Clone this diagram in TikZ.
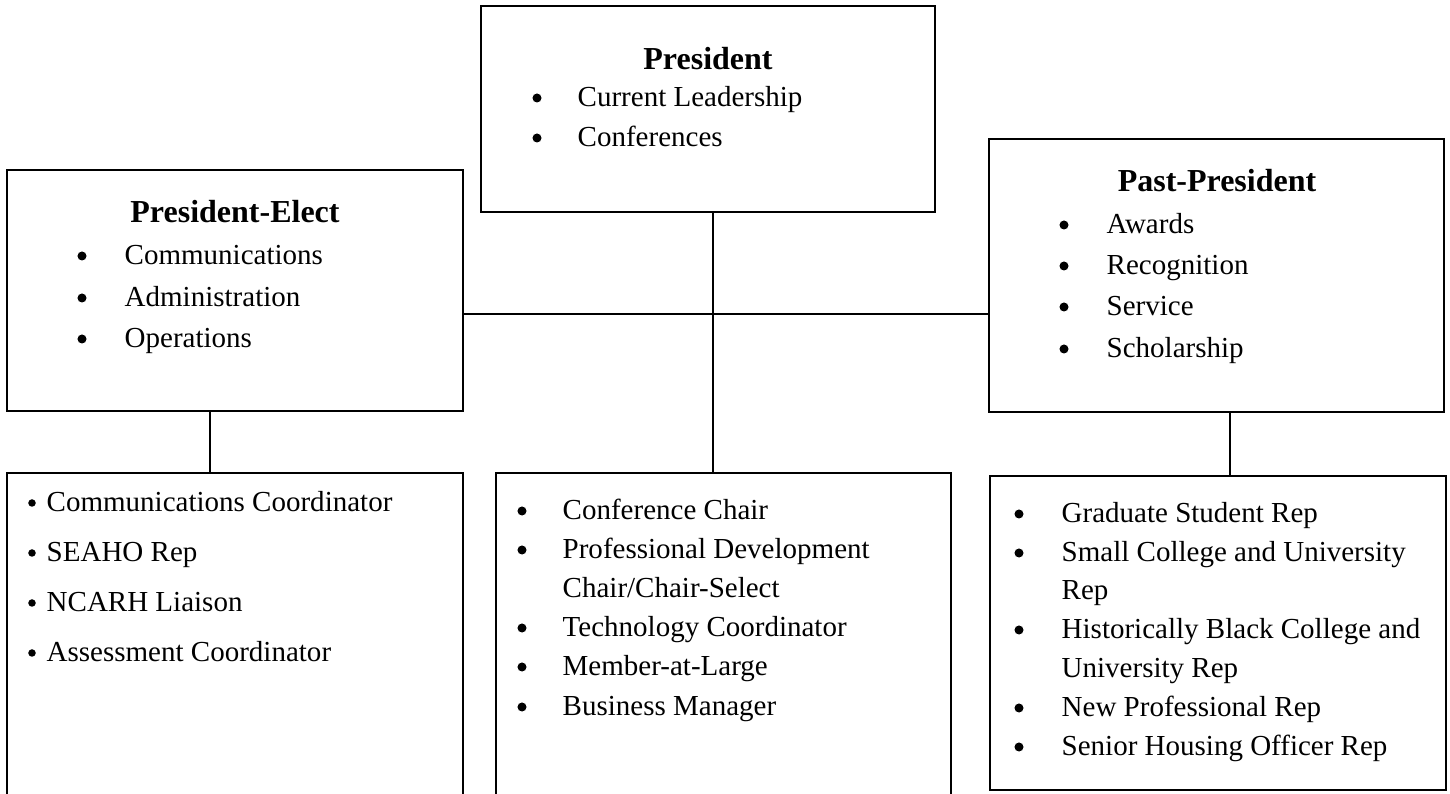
\documentclass[tikz,border=0pt]{standalone}
\usepackage{fontspec}
\setmainfont{Liberation Serif}
\tikzset{
  box/.style={draw, line width=0.02cm, inner sep=0pt},
  link/.style={line width=0.02cm},
  head/.style={anchor=base, inner sep=0pt, font=\fontsize{9.1}{11}\selectfont\bfseries},
  item/.style={anchor=base west, inner sep=0pt, font=\fontsize{8.25}{10}\selectfont},
  bul/.style={circle, fill, inner sep=0pt, minimum size=0.09cm},
  smallbul/.style={circle, fill, inner sep=0pt, minimum size=0.075cm},
}
\begin{document}
\begin{tikzpicture}[x=0.01cm, y=-0.01cm]
\useasboundingbox (0,0) rectangle (1450,794);
\clip (0,0) rectangle (1450,794);

% Drawing box President
\node [box, minimum width=4.54cm, minimum height=2.06cm] (pres) at (708,109) {};
\node [head] (presT) at (708,70) {President};
\node [bul] (presB1) at (537,98) {};
\node [item] (pres1) at (577,107) {Current Leadership};
\node [bul] (presB2) at (537,138) {};
\node [item] (pres2) at (577,147) {Conferences};

% Drawing box President-Elect
\node [box, minimum width=4.56cm, minimum height=2.41cm] (elect) at (235,290.5) {};
\node [head] (electT) at (235,223) {President-Elect};
\node [bul] (electB1) at (82,256) {};
\node [item] (elect1) at (124,265) {Communications};
\node [bul] (electB2) at (82,298) {};
\node [item] (elect2) at (124,307) {Administration};
\node [bul] (electB3) at (82,339) {};
\node [item] (elect3) at (124,348) {Operations};

% Drawing box Past-President
\node [box, minimum width=4.55cm, minimum height=2.73cm] (past) at (1216.5,275.5) {};
\node [head] (pastT) at (1217,192) {Past-President};
\node [bul] (pastB1) at (1064,225) {};
\node [item] (past1) at (1106,234) {Awards};
\node [bul] (pastB2) at (1064,266) {};
\node [item] (past2) at (1106,275) {Recognition};
\node [bul] (pastB3) at (1064,307) {};
\node [item] (past3) at (1106,316) {Service};
\node [bul] (pastB4) at (1064,349) {};
\node [item] (past4) at (1106,358) {Scholarship};

% Drawing box under President-Elect
\node [box, minimum width=4.56cm, minimum height=3.37cm] (left) at (235,641.5) {};
\node [smallbul] (leftB1) at (32,503) {};
\node [item] (left1) at (46,512) {Communications Coordinator};
\node [smallbul] (leftB2) at (32,553) {};
\node [item] (left2) at (46,562) {SEAHO Rep};
\node [smallbul] (leftB3) at (32,603) {};
\node [item] (left3) at (46,612) {NCARH Liaison};
\node [smallbul] (leftB4) at (32,653) {};
\node [item] (left4) at (46,662) {Assessment Coordinator};

% Drawing box under President
\node [box, minimum width=4.55cm, minimum height=3.37cm] (mid) at (723.5,641.5) {};
\node [bul] (midB1) at (522,511) {};
\node [item] (mid1) at (562,520) {Conference Chair};
\node [bul] (midB2) at (522,550) {};
\node [item] (mid2) at (562,559) {Professional Development};
\node [item] (mid2b) at (562,598) {Chair/Chair-Select};
\node [bul] (midB3) at (522,628) {};
\node [item] (mid3) at (562,637) {Technology Coordinator};
\node [bul] (midB4) at (522,667) {};
\node [item] (mid4) at (562,676) {Member-at-Large};
\node [bul] (midB5) at (522,707) {};
\node [item] (mid5) at (562,716) {Business Manager};

% Drawing box under Past-President
\node [box, minimum width=4.56cm, minimum height=3.14cm] (right) at (1218,633) {};
\node [bul] (rightB1) at (1019,514) {};
\node [item] (right1) at (1061,523) {Graduate Student Rep};
\node [bul] (rightB2) at (1019,553) {};
\node [item] (right2) at (1061,562) {Small College and University};
\node [item] (right2b) at (1061,600) {Rep};
\node [bul] (rightB3) at (1019,630) {};
\node [item] (right3) at (1061,639) {Historically Black College and};
\node [item] (right3b) at (1061,678) {University Rep};
\node [bul] (rightB4) at (1019,708) {};
\node [item] (right4) at (1061,717) {New Professional Rep};
\node [bul] (rightB5) at (1019,747) {};
\node [item] (right5) at (1061,756) {Senior Housing Officer Rep};

% Drawing connecting lines
\coordinate (hbar) at (700,314);
\coordinate (trunk) at (713,0);
\coordinate (lstem) at (210,0);
\coordinate (rstem) at (1230,0);
\draw [link] (elect.east |- hbar) -- (past.west |- hbar);
\draw [link] (pres.south -| trunk) -- (mid.north -| trunk);
\draw [link] (elect.south -| lstem) -- (left.north -| lstem);
\draw [link] (past.south -| rstem) -- (right.north -| rstem);
\end{tikzpicture}
\end{document}
